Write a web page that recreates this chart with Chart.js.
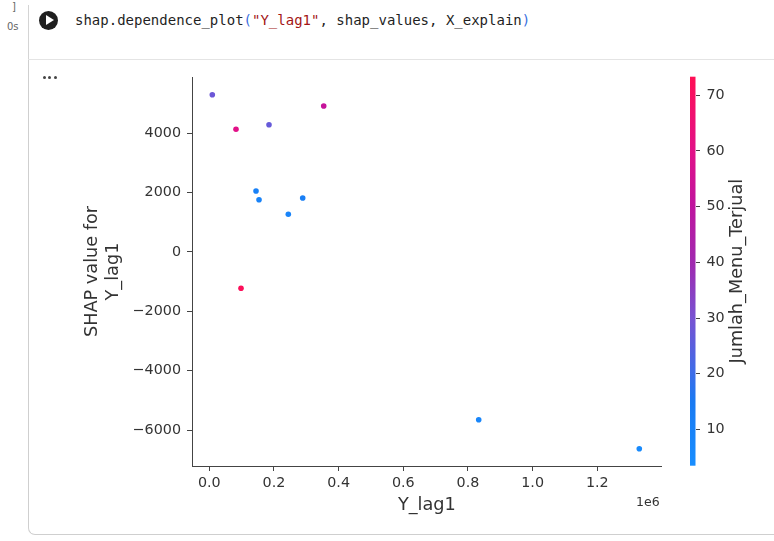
<!DOCTYPE html>
<html><head><meta charset="utf-8">
<script src="https://cdn.jsdelivr.net/npm/chart.js@4.4.1/dist/chart.umd.min.js"></script>
<style>
html,body{margin:0;padding:0;background:#fff;width:774px;height:541px;overflow:hidden;position:relative;font-family:"DejaVu Sans",sans-serif;}
.abs{position:absolute;}
#vline{left:28px;top:5px;width:1px;height:55px;background:#d4d4d4;}
#hline{left:28px;top:59px;width:746px;height:1px;background:#e4e4e4;}
#box{left:28px;top:60px;width:770px;height:475px;border-left:1px solid #cfcfcf;border-bottom:1px solid #cfcfcf;border-bottom-left-radius:7px;box-sizing:border-box;}
#br{left:12px;top:1px;font-size:10px;color:#666;}
#tm{left:7px;top:21px;font-size:10px;color:#666;}
#run{left:38.5px;top:10.5px;width:19px;height:19px;border-radius:50%;background:#1f1f1f;}
#tri{left:45.5px;top:15px;width:0;height:0;border-top:5px solid transparent;border-bottom:5px solid transparent;border-left:8px solid #fff;}
#code{left:75px;top:10px;font-family:"DejaVu Sans Mono",monospace;font-size:14px;line-height:20px;color:#1f1f1f;white-space:pre;}
.br{color:#3a6fe0;} .st{color:#a31515;}
.dot{width:3px;height:3px;border-radius:50%;background:#444;top:75.5px;}
canvas{position:absolute;left:0;top:0;}
</style></head>
<body>
<div class="abs" id="vline"></div>
<div class="abs" id="hline"></div>
<div class="abs" id="box"></div>
<div class="abs" id="br">]</div>
<div class="abs" id="tm">0s</div>
<div class="abs" id="run"></div>
<div class="abs" id="tri"></div>
<div class="abs" id="code">shap.dependence_plot<span class="br">(</span><span class="st">"Y_lag1"</span>, shap_values, X_explain<span class="br">)</span></div>
<div class="abs dot" style="left:42.5px"></div>
<div class="abs dot" style="left:48px"></div>
<div class="abs dot" style="left:53.5px"></div>
<canvas id="c1" width="774" height="541"></canvas>
<canvas id="c2" width="774" height="541"></canvas>
<script>
// ---- data ----
const xValues = [9300, 82600, 184700, 353900, 144500, 153800, 244400, 288900, 98100, 833300, 1330000];
const shapValues = [5302, 4136, 4291, 4921, 2056, 1763, 1271, 1820, -1223, -5652, -6630];
const colorValues = [28, 60, 27, 52, 11, 10, 9, 12, 72, 8, 6];
const xTicks = [0, 200000, 400000, 600000, 800000, 1000000, 1200000];
const yTicks = [-6000, -4000, -2000, 0, 2000, 4000];
const cbTicks = [10, 20, 30, 40, 50, 60, 70];
const xLabel = 'Y_lag1';
const yLabel = ['SHAP value for', 'Y_lag1'];
const cbLabel = 'Jumlah_Menu_Terjual';
const offsetText = '1e6';
const cbMin = 3.5, cbMax = 73.3;

// ---- colormap (SHAP red_blue approximation) ----
const cmap = [[0,[24,142,255]],[0.165,[26,122,242]],[0.24,[62,108,232]],[0.38,[120,82,210]],[0.52,[160,42,176]],[0.67,[192,20,158]],[0.81,[226,17,136]],[1,[255,15,85]]];
function cmapAt(t){
  t = Math.max(0, Math.min(1, t));
  for (let i=1;i<cmap.length;i++){
    if (t <= cmap[i][0]){
      const [t0,c0]=cmap[i-1],[t1,c1]=cmap[i];
      const f=(t-t0)/(t1-t0);
      return 'rgb('+c0.map((c,k)=>Math.round(c+(c1[k]-c)*f)).join(',')+')';
    }
  }
  return 'rgb('+cmap[cmap.length-1][1].join(',')+')';
}
const colorFor = v => cmapAt((v-cbMin)/(cbMax-cbMin));

const TXT = '#333';
const LINE = '#444';
const tickFont = {family:'DejaVu Sans', size:14.3};
const labFont = {family:'DejaVu Sans', size:17.7};
const fmtY = v => v < 0 ? '\u2212' + Math.abs(v) : String(v);

const offsetPlugin = {
  id:'offsetText',
  afterDraw(chart){
    const ctx = chart.ctx, a = chart.chartArea;
    ctx.save();
    ctx.fillStyle = TXT;
    ctx.font = '12.5px "DejaVu Sans"';
    ctx.textAlign = 'right';
    ctx.textBaseline = 'middle';
    ctx.fillText(offsetText, a.right - 2, 503);
    ctx.restore();
  }
};

new Chart(document.getElementById('c1'), {
  type:'scatter',
  data:{datasets:[{
    data: xValues.map((x,i)=>({x:x, y:shapValues[i]})),
    pointBackgroundColor: colorValues.map(colorFor),
    pointBorderWidth:0, pointRadius:2.8, pointHoverRadius:2.8
  }]},
  options:{
    responsive:false, animation:false, events:[],
    layout:{padding:{left:0, top:77, right:112.3, bottom:0}},
    plugins:{legend:{display:false}, tooltip:{enabled:false}},
    scales:{
      x:{type:'linear', position:'bottom', min:-53500, max:1399300,
        afterBuildTicks: s => { s.ticks = xTicks.map(v=>({value:v})); },
        afterFit: s => { s.height = 75; },
        grid:{display:true, drawOnChartArea:false, drawTicks:true, tickLength:5, color:LINE, lineWidth:1},
        border:{display:true, color:LINE, width:1},
        ticks:{padding:4, color:TXT, font:tickFont, maxRotation:0, autoSkip:false, callback: v => (v/1e6).toFixed(1)},
        title:{display:true, text:xLabel, color:TXT, font:labFont, padding:{top:0, bottom:25.4}}
      },
      y:{type:'linear', position:'left', min:-7213, max:5898,
        afterBuildTicks: s => { s.ticks = yTicks.map(v=>({value:v})); },
        afterFit: s => { s.width = 192; },
        grid:{display:true, drawOnChartArea:false, drawTicks:true, tickLength:5, color:LINE, lineWidth:1},
        border:{display:true, color:LINE, width:1},
        ticks:{padding:6, color:TXT, font:tickFont, autoSkip:false, callback: v => fmtY(v)},
        title:{display:true, text:yLabel, color:TXT, font:labFont, padding:{top:81.4, bottom:0}}
      }
    }
  },
  plugins:[offsetPlugin]
});

const cbPlugin = {
  id:'colorbar',
  beforeDraw(chart){
    const ctx = chart.ctx, a = chart.chartArea;
    const g = ctx.createLinearGradient(0, a.bottom, 0, a.top);
    cmap.forEach(([t])=>g.addColorStop(t, cmapAt(t)));
    ctx.save();
    ctx.fillStyle = g;
    ctx.fillRect(a.left, a.top, a.right-a.left, a.bottom-a.top);
    ctx.restore();
  },
  afterDraw(chart){
    const ctx = chart.ctx, a = chart.chartArea;
    ctx.save();
    ctx.translate(737, (a.top+a.bottom)/2);
    ctx.rotate(-Math.PI/2);
    ctx.fillStyle = TXT;
    ctx.font = '17.7px "DejaVu Sans"';
    ctx.textAlign = 'center';
    ctx.textBaseline = 'middle';
    ctx.fillText(cbLabel, 0, 0);
    ctx.restore();
  }
};

new Chart(document.getElementById('c2'), {
  type:'scatter',
  data:{datasets:[]},
  options:{
    responsive:false, animation:false, events:[],
    layout:{padding:{left:690, top:76.7, right:28.5, bottom:75.3}},
    plugins:{legend:{display:false}, tooltip:{enabled:false}},
    scales:{
      x:{display:false, min:0, max:1},
      y:{type:'linear', position:'right', min:cbMin, max:cbMax,
        afterBuildTicks: s => { s.ticks = cbTicks.map(v=>({value:v})); },
        afterFit: s => { s.width = 50; },
        grid:{display:true, drawOnChartArea:false, drawTicks:true, tickLength:4.5, color:LINE, lineWidth:1},
        border:{display:false},
        ticks:{padding:6.5, color:TXT, font:tickFont, autoSkip:false}
      }
    }
  },
  plugins:[cbPlugin]
});
</script>
</body></html>
